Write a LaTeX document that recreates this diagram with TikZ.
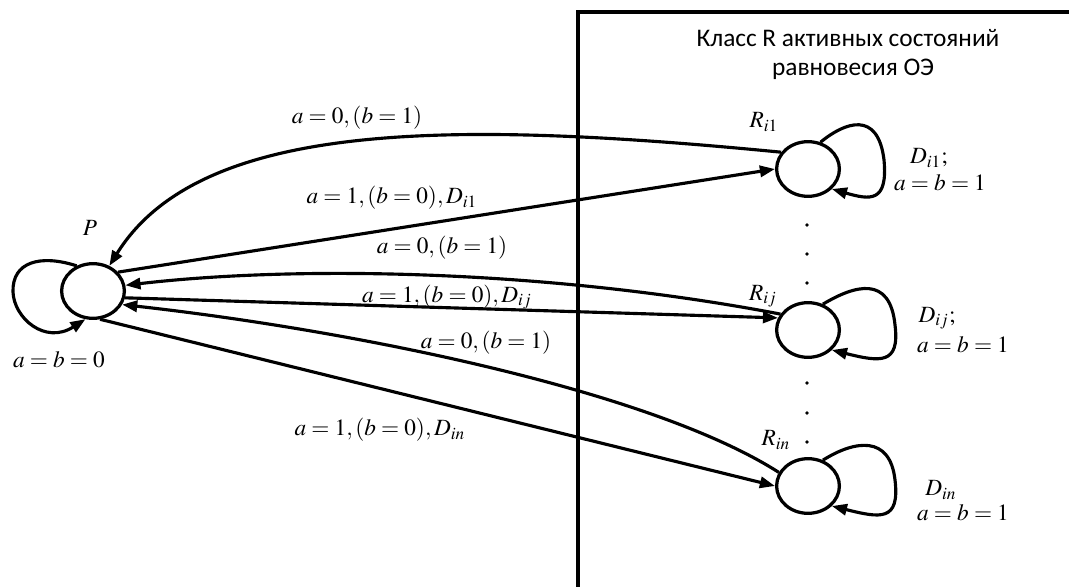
\documentclass[tikz,border=0pt]{standalone}
\usepackage{mathptmx}
\usepackage[no-math]{fontspec}
\newfontfamily\headfont{Carlito}
\usetikzlibrary{arrows.meta, shapes.geometric}
\tikzset{
	statenode/.style={
			ellipse,
			draw=black,
			line width=1.4pt,
			minimum width=27pt,
			minimum height=23.5pt,
			inner sep=0pt
		},
	transedge/.style={
			line width=1.35pt,
			-{Triangle[length=6.5pt,width=4.8pt]}
		},
	labelnode/.style={
			inner sep=0pt
		},
	headnode/.style={
			inner sep=0pt,
			anchor=base,
			font=\headfont\fontsize{10.9pt}{13pt}\selectfont
		}
}

\begin{document}
\begin{tikzpicture}[x=0.43pt, y=-0.43pt]
\useasboundingbox (0,0) rectangle (1069,587);
\draw[line width=1.4pt] (578,587) -- (578,12) -- (1069,12);
\node[headnode] (class1) at (848,47) {Класс R активных состояний};
\node[headnode] (class2) at (853,76) {равновесия ОЭ};

\node[statenode] (p) at (93,291) {};
\node[statenode] (ri1) at (808,169) {};
\node[statenode] (rij) at (808,330) {};
\node[statenode] (rin) at (808,486) {};

\node[labelnode] (plab) at (90,228) {$P$};
\node[labelnode] (ri1lab) at (764,122) {$R_{i1}$};
\node[labelnode] (rijlab) at (763,296) {$R_{ij}$};
\node[labelnode] (rinlab) at (776,440) {$R_{in}$};

\foreach \y in {225,254,283,383,413,442}
  \fill (807,\y) circle[radius=0.8pt];

% self loops
\draw[transedge] (p.123) .. controls (40,254) and (12,262) .. (13,292)
  .. controls (14,318) and (45,345) .. (p.-105);
\node[labelnode] (plooplab) at (59,360) {$a = b = 0$};

\draw[transedge] (ri1.65) .. controls (845,122) and (878,110) .. (884,160)
  .. controls (888,203) and (870,200) .. (ri1.-40);
\node[labelnode] (ri1d) at (929,158) {$D_{i1};$};
\node[labelnode] (ri1ab) at (940,183) {$a = b = 1$};

\draw[transedge] (rij.60) .. controls (855,285) and (890,275) .. (895,325)
  .. controls (900,365) and (880,362) .. (rij.-40);
\node[labelnode] (rijd) at (937,318) {$D_{ij};$};
\node[labelnode] (rijab) at (963,345) {$a = b = 1$};

\draw[transedge] (rin.60) .. controls (855,440) and (890,435) .. (895,480)
  .. controls (900,522) and (880,518) .. (rin.-40);
\node[labelnode] (rind) at (941,490) {$D_{in}$};
\node[labelnode] (rinab) at (963,513) {$a = b = 1$};

% transitions
\draw[transedge] (ri1.148) .. controls (450,120) and (200,120) .. (p.57);
\node[labelnode] (back1) at (357,118) {$a = 0, (b = 1)$};
\draw[transedge] (p.37) -- (ri1.180);
\node[labelnode] (to1) at (392,198) {$a = 1, (b = 0), D_{i1}$};

\draw[transedge] (rij.150) .. controls (550,270) and (300,265) .. (p.10);
\node[labelnode] (back2) at (442,248) {$a = 0, (b = 1)$};
\draw[transedge] (p.-12) -- (rij.158);
\node[labelnode] (to2) at (447,297) {$a = 1, (b = 0), D_{ij}$};

\draw[transedge] (rin.155) .. controls (650,390) and (350,330) .. (p.-25);
\node[labelnode] (back3) at (486,343) {$a = 0, (b = 1)$};
\draw[transedge] (p.-76) -- (rin.180);
\node[labelnode] (to3) at (380,430) {$a = 1, (b = 0), D_{in}$};
\end{tikzpicture}
\end{document}
